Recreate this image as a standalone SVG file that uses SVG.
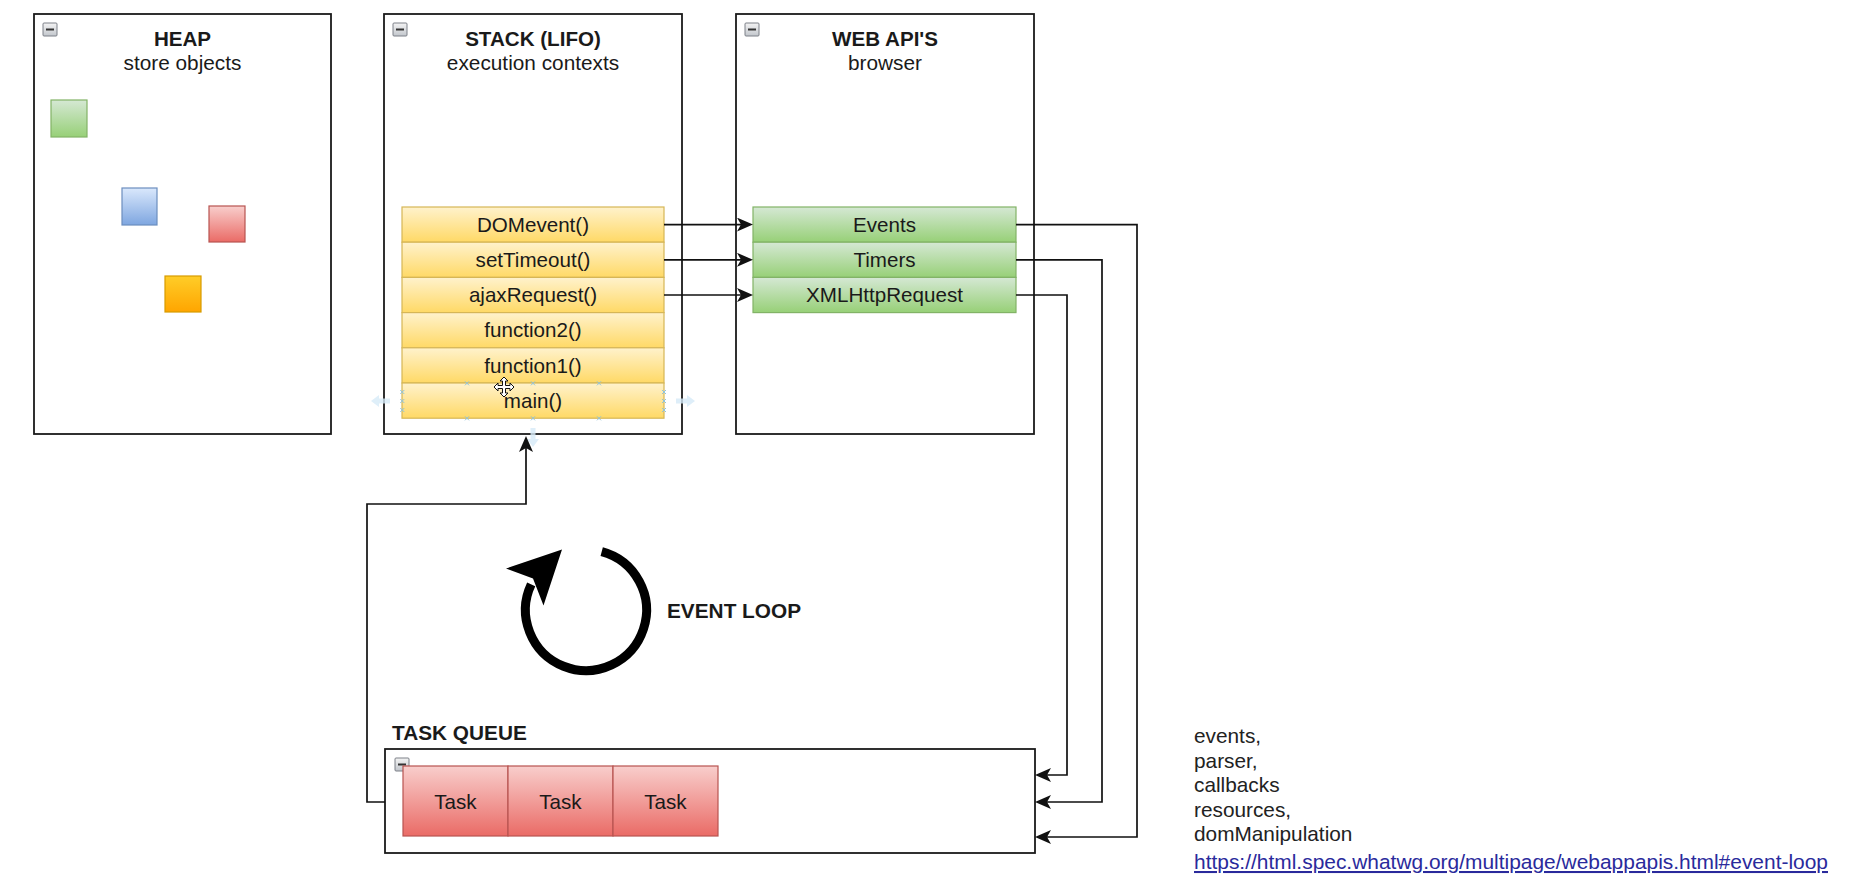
<svg xmlns="http://www.w3.org/2000/svg" width="1853" height="890" viewBox="0 0 1853 890">
  <defs>
    <linearGradient id="gYellow" x1="0" y1="0" x2="0" y2="1">
      <stop offset="0" stop-color="#fff2cc"/>
      <stop offset="1" stop-color="#ffd966"/>
    </linearGradient>
    <linearGradient id="gGreen" x1="0" y1="0" x2="0" y2="1">
      <stop offset="0" stop-color="#d5e8d4"/>
      <stop offset="1" stop-color="#97d077"/>
    </linearGradient>
    <linearGradient id="gRed" x1="0" y1="0" x2="0" y2="1">
      <stop offset="0" stop-color="#f8cecc"/>
      <stop offset="1" stop-color="#ea6b66"/>
    </linearGradient>
    <linearGradient id="gBlue" x1="0" y1="0" x2="0" y2="1">
      <stop offset="0" stop-color="#dae8fc"/>
      <stop offset="1" stop-color="#7ea6e0"/>
    </linearGradient>
    <linearGradient id="gOrange" x1="0" y1="0" x2="0" y2="1">
      <stop offset="0" stop-color="#ffcd28"/>
      <stop offset="1" stop-color="#ffa500"/>
    </linearGradient>
    <linearGradient id="gIcon" x1="0" y1="0" x2="0" y2="1">
      <stop offset="0" stop-color="#f4f4f4"/>
      <stop offset="1" stop-color="#c2c6cc"/>
    </linearGradient>
    <marker id="arrow" viewBox="0 0 16 14" refX="12" refY="7" markerWidth="16" markerHeight="14" markerUnits="userSpaceOnUse" orient="auto">
      <path d="M0,0 L16,7 L0,14 L4,7 Z" fill="#111"/>
    </marker>
    <g id="minus">
      <rect x="0" y="0" width="14" height="13" rx="1" fill="url(#gIcon)" stroke="#7c8088" stroke-width="1"/>
      <rect x="3" y="5.5" width="8" height="2" fill="#333"/>
    </g>
    <path id="xmark" d="M-2,-2 L2,2 M-2,2 L2,-2" stroke="#8fc3dc" stroke-width="1" fill="none"/>
  </defs>
  <style>
    text { font-family: "Liberation Sans", Arial, Helvetica, sans-serif; fill: #1a1a1a; }
    .title { font-size: 20.6px; font-weight: bold; text-anchor: middle; }
    .sub { font-size: 20.8px; text-anchor: middle; }
    .lbl { font-size: 20.6px; text-anchor: middle; }
    .bold { font-size: 20.8px; font-weight: bold; }
    .note { font-size: 20.8px; fill: #222; }
    .link { font-size: 20.5px; fill: #2a2a9c; text-decoration: underline; }
    .container { fill: #ffffff; stroke: #1a1a1a; stroke-width: 1.8; }
    .frame { fill: url(#gYellow); stroke: #d6b656; stroke-width: 1.2; }
    .api { fill: url(#gGreen); stroke: #82b366; stroke-width: 1.2; }
    .task { fill: url(#gRed); stroke: #b85450; stroke-width: 1.2; }
    .edge { fill: none; stroke: #111; stroke-width: 1.7; }
  </style>

  <rect x="0" y="0" width="1853" height="890" fill="#ffffff"/>

  <!-- Heap container with stored objects -->
  <g id="heap">
    <rect class="container" x="34" y="14" width="297" height="420"/>
    <use href="#minus" x="43" y="23"/>
    <text class="title" x="182.5" y="45.5">HEAP</text>
    <text class="sub" x="182.5" y="70">store objects</text>
    <rect x="51" y="100" width="36" height="37" fill="url(#gGreen)" stroke="#82b366" stroke-width="1.2"/>
    <rect x="122" y="188" width="35" height="37" fill="url(#gBlue)" stroke="#6c8ebf" stroke-width="1.2"/>
    <rect x="209" y="206" width="36" height="36" fill="url(#gRed)" stroke="#b85450" stroke-width="1.2"/>
    <rect x="165" y="276" width="36" height="36" fill="url(#gOrange)" stroke="#d79b00" stroke-width="1.2"/>
  </g>

  <!-- Call stack container -->
  <g id="stack">
    <rect class="container" x="384" y="14" width="298" height="420"/>
    <use href="#minus" x="393" y="23"/>
    <text class="title" x="533" y="45.5">STACK (LIFO)</text>
    <text class="sub" x="533" y="70">execution contexts</text>
  </g>
  <g id="frame-domevent">
    <rect class="frame" x="402" y="207" width="262" height="35.2"/>
    <text class="lbl" x="533" y="231.8">DOMevent()</text>
  </g>
  <g id="frame-settimeout">
    <rect class="frame" x="402" y="242.2" width="262" height="35.2"/>
    <text class="lbl" x="533" y="267">setTimeout()</text>
  </g>
  <g id="frame-ajaxrequest">
    <rect class="frame" x="402" y="277.4" width="262" height="35.2"/>
    <text class="lbl" x="533" y="302.2">ajaxRequest()</text>
  </g>
  <g id="frame-function2">
    <rect class="frame" x="402" y="312.6" width="262" height="35.2"/>
    <text class="lbl" x="533" y="337.4">function2()</text>
  </g>
  <g id="frame-function1">
    <rect class="frame" x="402" y="347.8" width="262" height="35.2"/>
    <text class="lbl" x="533" y="372.6">function1()</text>
  </g>
  <g id="frame-main">
    <rect class="frame" x="402" y="383" width="262" height="35.2"/>
    <text class="lbl" x="533" y="407.8">main()</text>
    <!-- selection handles -->
    <use href="#xmark" x="467" y="383.3"/>
    <use href="#xmark" x="533" y="383.3"/>
    <use href="#xmark" x="599" y="383.3"/>
    <use href="#xmark" x="467" y="418.3"/>
    <use href="#xmark" x="533" y="418.3"/>
    <use href="#xmark" x="599" y="418.3"/>
    <use href="#xmark" x="402.3" y="392"/>
    <use href="#xmark" x="402.3" y="401"/>
    <use href="#xmark" x="402.3" y="410"/>
    <use href="#xmark" x="664" y="392"/>
    <use href="#xmark" x="664" y="401"/>
    <use href="#xmark" x="664" y="410"/>
    <!-- hover hints -->
    <g fill="#d7ebf8" opacity="0.8">
      <path d="M371,401 L379,395 L379,398.5 L390,398.5 L390,403.5 L379,403.5 L379,407 Z"/>
      <path d="M695,401 L687,395 L687,398.5 L676,398.5 L676,403.5 L687,403.5 L687,407 Z"/>
      <path d="M533,447 L527,439 L530.5,439 L530.5,428 L535.5,428 L535.5,439 L539,439 Z"/>
    </g>
    <!-- move cursor -->
    <path transform="translate(504,387)" d="M0,-10 L4,-6 L1.5,-6 L1.5,-1.5 L6,-1.5 L6,-4 L10,0 L6,4 L6,1.5 L1.5,1.5 L1.5,6 L4,6 L0,10 L-4,6 L-1.5,6 L-1.5,1.5 L-6,1.5 L-6,4 L-10,0 L-6,-4 L-6,-1.5 L-1.5,-1.5 L-1.5,-6 L-4,-6 Z" fill="#ffffff" stroke="#111" stroke-width="1"/>
  </g>

  <!-- Browser web APIs container -->
  <g id="webapis">
    <rect class="container" x="736" y="14" width="298" height="420"/>
    <use href="#minus" x="745" y="23"/>
    <text class="title" x="885" y="45.5">WEB API'S</text>
    <text class="sub" x="885" y="70">browser</text>
  </g>
  <g id="api-events">
    <rect class="api" x="753" y="207" width="263" height="35.2"/>
    <text class="lbl" x="884.5" y="231.8">Events</text>
  </g>
  <g id="api-timers">
    <rect class="api" x="753" y="242.2" width="263" height="35.2"/>
    <text class="lbl" x="884.5" y="267">Timers</text>
  </g>
  <g id="api-xhr">
    <rect class="api" x="753" y="277.4" width="263" height="35.2"/>
    <text class="lbl" x="884.5" y="302.2">XMLHttpRequest</text>
  </g>

  <!-- Task queue -->
  <g id="taskqueue">
    <text class="bold" x="392" y="740">TASK QUEUE</text>
    <rect class="container" x="385" y="749" width="650" height="104"/>
    <use href="#minus" x="395" y="758"/>
  </g>
  <g id="task-1">
    <rect class="task" x="403" y="766" width="105" height="70"/>
    <text class="lbl" x="455.5" y="809">Task</text>
  </g>
  <g id="task-2">
    <rect class="task" x="508" y="766" width="105" height="70"/>
    <text class="lbl" x="560.5" y="809">Task</text>
  </g>
  <g id="task-3">
    <rect class="task" x="613" y="766" width="105" height="70"/>
    <text class="lbl" x="665.5" y="809">Task</text>
  </g>

  <!-- Event loop symbol -->
  <g id="eventloop">
    <path d="M601.7,551.6 A60.5,60.5 0 1 1 531.2,584.4" fill="none" stroke="#000" stroke-width="9"/>
    <path d="M562,549.5 L506,568.5 L533,578.5 L543.5,605.5 Z" fill="#000"/>
    <text class="bold" x="667" y="618">EVENT LOOP</text>
  </g>

  <!-- Notes -->
  <g id="notes">
    <text class="note" x="1194" y="743">events,</text>
    <text class="note" x="1194" y="767.5">parser,</text>
    <text class="note" x="1194" y="792">callbacks</text>
    <text class="note" x="1194" y="816.5">resources,</text>
    <text class="note" x="1194" y="841">domManipulation</text>
    <text class="link" x="1194" y="869" textLength="634" lengthAdjust="spacingAndGlyphs">https://html.spec.whatwg.org/multipage/webappapis.html#event-loop</text>
  </g>

  <!-- Connectors -->
  <g id="connectors">
    <path class="edge" d="M664,224.6 L749,224.6" marker-end="url(#arrow)"/>
    <path class="edge" d="M664,259.8 L749,259.8" marker-end="url(#arrow)"/>
    <path class="edge" d="M664,295 L749,295" marker-end="url(#arrow)"/>
    <path class="edge" d="M1016,224.6 L1137,224.6 L1137,837 L1039,837" marker-end="url(#arrow)"/>
    <path class="edge" d="M1016,259.8 L1102,259.8 L1102,802 L1039,802" marker-end="url(#arrow)"/>
    <path class="edge" d="M1016,295 L1067,295 L1067,775 L1039,775" marker-end="url(#arrow)"/>
    <path class="edge" d="M385,802 L367,802 L367,504 L526,504 L526,440" marker-end="url(#arrow)"/>
  </g>
</svg>
